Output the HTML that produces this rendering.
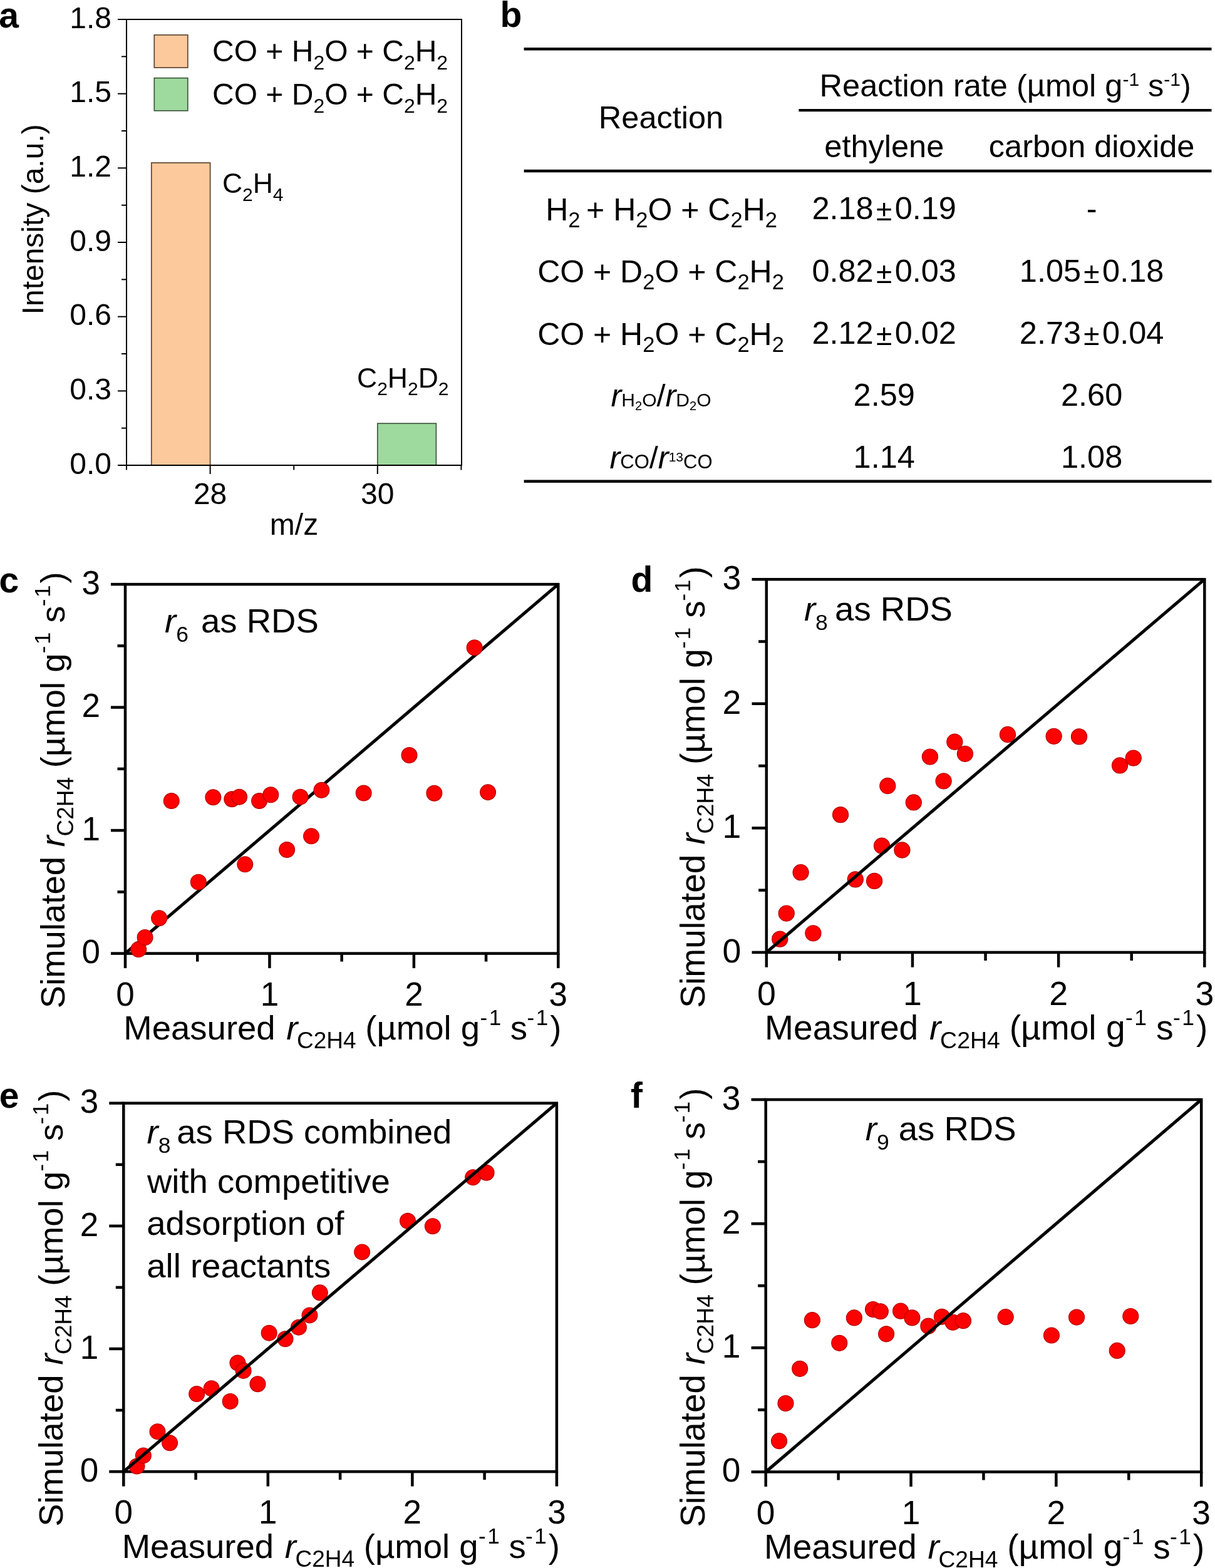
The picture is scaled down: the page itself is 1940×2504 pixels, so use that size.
<!DOCTYPE html>
<html><head><meta charset="utf-8"><title>Figure</title>
<style>
html,body{margin:0;padding:0;background:#fff;}
body{width:1940px;height:2504px;overflow:hidden;}
svg{display:block;}
text{font-family:"Liberation Sans", Arial, Helvetica, sans-serif;fill:#000;}
</style></head>
<body>
<svg width="1940" height="2504" viewBox="0 0 1940 2504">
<rect x="0" y="0" width="1940" height="2504" fill="#fff"/>
<text x="-1.7" y="44" font-size="57" font-weight="bold" >a</text>
<text x="798.5" y="43.4" font-size="57" font-weight="bold" >b</text>
<text x="-1.4" y="946.2" font-size="57" font-weight="bold" >c</text>
<text x="1007.4" y="945.1" font-size="57" font-weight="bold" >d</text>
<text x="-1.35" y="1769" font-size="57" font-weight="bold" >e</text>
<text x="1007" y="1769" font-size="57" font-weight="bold" >f</text>
<rect x="241.8" y="260" width="93.8" height="483" fill="#FCC99C" stroke="#5c4632" stroke-width="1.7" />
<rect x="602.8" y="676.2" width="93.6" height="66.8" fill="#9ED99E" stroke="#3c573d" stroke-width="1.7" />
<rect x="246.3" y="55.8" width="53.5" height="52.2" fill="#FCC99C" stroke="#5c4632" stroke-width="1.7" />
<rect x="246.3" y="124.6" width="53.5" height="52.2" fill="#9ED99E" stroke="#3c573d" stroke-width="1.7" />
<rect x="202" y="31" width="535" height="712" fill="none" stroke="#000" stroke-width="2" />
<line x1="188" y1="743" x2="202" y2="743" stroke="#000" stroke-width="2" stroke-linecap="butt"/>
<text x="178" y="756.5" font-size="48" text-anchor="end" >0.0</text>
<line x1="188" y1="624.33" x2="202" y2="624.33" stroke="#000" stroke-width="2" stroke-linecap="butt"/>
<text x="178" y="637.83" font-size="48" text-anchor="end" >0.3</text>
<line x1="188" y1="505.67" x2="202" y2="505.67" stroke="#000" stroke-width="2" stroke-linecap="butt"/>
<text x="178" y="519.17" font-size="48" text-anchor="end" >0.6</text>
<line x1="188" y1="387" x2="202" y2="387" stroke="#000" stroke-width="2" stroke-linecap="butt"/>
<text x="178" y="400.5" font-size="48" text-anchor="end" >0.9</text>
<line x1="188" y1="268.33" x2="202" y2="268.33" stroke="#000" stroke-width="2" stroke-linecap="butt"/>
<text x="178" y="281.83" font-size="48" text-anchor="end" >1.2</text>
<line x1="188" y1="149.67" x2="202" y2="149.67" stroke="#000" stroke-width="2" stroke-linecap="butt"/>
<text x="178" y="163.17" font-size="48" text-anchor="end" >1.5</text>
<line x1="188" y1="31" x2="202" y2="31" stroke="#000" stroke-width="2" stroke-linecap="butt"/>
<text x="178" y="44.5" font-size="48" text-anchor="end" >1.8</text>
<line x1="194" y1="683.67" x2="202" y2="683.67" stroke="#000" stroke-width="2" stroke-linecap="butt"/>
<line x1="194" y1="565" x2="202" y2="565" stroke="#000" stroke-width="2" stroke-linecap="butt"/>
<line x1="194" y1="446.33" x2="202" y2="446.33" stroke="#000" stroke-width="2" stroke-linecap="butt"/>
<line x1="194" y1="327.67" x2="202" y2="327.67" stroke="#000" stroke-width="2" stroke-linecap="butt"/>
<line x1="194" y1="209" x2="202" y2="209" stroke="#000" stroke-width="2" stroke-linecap="butt"/>
<line x1="194" y1="90.33" x2="202" y2="90.33" stroke="#000" stroke-width="2" stroke-linecap="butt"/>
<line x1="335.6" y1="743" x2="335.6" y2="757" stroke="#000" stroke-width="2" stroke-linecap="butt"/>
<text x="335.6" y="804.5" font-size="48" text-anchor="middle" >28</text>
<line x1="602.8" y1="743" x2="602.8" y2="757" stroke="#000" stroke-width="2" stroke-linecap="butt"/>
<text x="602.8" y="804.5" font-size="48" text-anchor="middle" >30</text>
<line x1="202" y1="743" x2="202" y2="750.5" stroke="#000" stroke-width="2" stroke-linecap="butt"/>
<line x1="469.2" y1="743" x2="469.2" y2="750.5" stroke="#000" stroke-width="2" stroke-linecap="butt"/>
<line x1="736.4" y1="743" x2="736.4" y2="750.5" stroke="#000" stroke-width="2" stroke-linecap="butt"/>
<text x="469.5" y="853.5" font-size="48" text-anchor="middle" >m/z</text>
<text transform="translate(69,502.4) rotate(-90)" font-size="48">Intensity (a.u.)</text>
<text x="339" y="97.6" font-size="48" >CO + H<tspan font-size="32" dy="13.5">2</tspan><tspan dy="-13.5">O + C</tspan><tspan font-size="32" dy="13.5">2</tspan><tspan dy="-13.5">H</tspan><tspan font-size="32" dy="13.5">2</tspan></text>
<text x="339" y="166.9" font-size="48" >CO + D<tspan font-size="32" dy="13.5">2</tspan><tspan dy="-13.5">O + C</tspan><tspan font-size="32" dy="13.5">2</tspan><tspan dy="-13.5">H</tspan><tspan font-size="32" dy="13.5">2</tspan></text>
<text x="354.9" y="308.3" font-size="44.5" >C<tspan font-size="30" dy="12.5">2</tspan><tspan dy="-12.5">H</tspan><tspan font-size="30" dy="12.5">4</tspan></text>
<text x="570" y="618.8" font-size="44.5" >C<tspan font-size="30" dy="12.5">2</tspan><tspan dy="-12.5">H</tspan><tspan font-size="30" dy="12.5">2</tspan><tspan dy="-12.5">D</tspan><tspan font-size="30" dy="12.5">2</tspan></text>
<rect x="836.6" y="76" width="1097.9" height="4.5" fill="#000" stroke="none" stroke-width="0" />
<rect x="1275.4" y="174" width="659.1" height="4.2" fill="#000" stroke="none" stroke-width="0" />
<rect x="836.6" y="270.8" width="1097.9" height="4.5" fill="#000" stroke="none" stroke-width="0" />
<rect x="836.6" y="766.4" width="1097.9" height="4.5" fill="#000" stroke="none" stroke-width="0" />
<text x="1055.5" y="204.5" font-size="50.5" text-anchor="middle" >Reaction</text>
<text x="1308.6" y="153.9" font-size="50.5" >Reaction rate (µmol g<tspan font-size="30" dy="-17">-1</tspan><tspan dy="17"> s</tspan><tspan font-size="30" dy="-17">-1</tspan><tspan dy="17">)</tspan></text>
<text x="1411.8" y="251.3" font-size="50.5" text-anchor="middle" >ethylene</text>
<text x="1743.1" y="251.3" font-size="50.5" text-anchor="middle" >carbon dioxide</text>
<text x="1056.1" y="352.2" font-size="50" text-anchor="middle" >H<tspan font-size="34.5" dy="11">2 </tspan><tspan dy="-11">+ H</tspan><tspan font-size="34.5" dy="11">2</tspan><tspan dy="-11">O + C</tspan><tspan font-size="34.5" dy="11">2</tspan><tspan dy="-11">H</tspan><tspan font-size="34.5" dy="11">2</tspan></text>
<text x="1055" y="451.4" font-size="50" text-anchor="middle" >CO + D<tspan font-size="34.5" dy="11">2</tspan><tspan dy="-11">O + C</tspan><tspan font-size="34.5" dy="11">2</tspan><tspan dy="-11">H</tspan><tspan font-size="34.5" dy="11">2</tspan></text>
<text x="1055" y="550.6" font-size="50" text-anchor="middle" >CO + H<tspan font-size="34.5" dy="11">2</tspan><tspan dy="-11">O + C</tspan><tspan font-size="34.5" dy="11">2</tspan><tspan dy="-11">H</tspan><tspan font-size="34.5" dy="11">2</tspan></text>
<text x="1055.5" y="649" font-size="50.5" text-anchor="middle" ><tspan font-style="italic">r</tspan><tspan font-size="30">H</tspan><tspan font-size="20" dy="6">2</tspan><tspan font-size="30" dy="-6">O</tspan>/<tspan font-style="italic">r</tspan><tspan font-size="30">D</tspan><tspan font-size="20" dy="6">2</tspan><tspan font-size="30" dy="-6">O</tspan></text>
<text x="1055.5" y="748.2" font-size="50.5" text-anchor="middle" ><tspan font-style="italic">r</tspan><tspan font-size="31">CO</tspan>/<tspan font-style="italic">r</tspan><tspan font-size="21" dy="-11">13</tspan><tspan font-size="31" dy="11">CO</tspan></text>
<text x="1411.7" y="350.4" font-size="50.5" text-anchor="middle" >2.18<tspan font-size="46" dy="2" dx="4.2">±</tspan><tspan dy="-2" dx="4.5">0.19</tspan></text>
<text x="1743.1" y="350.4" font-size="50.5" text-anchor="middle" >-</text>
<text x="1411.7" y="449.6" font-size="50.5" text-anchor="middle" >0.82<tspan font-size="46" dy="2" dx="4.2">±</tspan><tspan dy="-2" dx="4.5">0.03</tspan></text>
<text x="1743.1" y="449.6" font-size="50.5" text-anchor="middle" >1.05<tspan font-size="46" dy="2" dx="4.2">±</tspan><tspan dy="-2" dx="4.5">0.18</tspan></text>
<text x="1411.7" y="548.8" font-size="50.5" text-anchor="middle" >2.12<tspan font-size="46" dy="2" dx="4.2">±</tspan><tspan dy="-2" dx="4.5">0.02</tspan></text>
<text x="1743.1" y="548.8" font-size="50.5" text-anchor="middle" >2.73<tspan font-size="46" dy="2" dx="4.2">±</tspan><tspan dy="-2" dx="4.5">0.04</tspan></text>
<text x="1411.7" y="648" font-size="50.5" text-anchor="middle" >2.59</text>
<text x="1743.1" y="648" font-size="50.5" text-anchor="middle" >2.60</text>
<text x="1411.7" y="747.2" font-size="50.5" text-anchor="middle" >1.14</text>
<text x="1743.1" y="747.2" font-size="50.5" text-anchor="middle" >1.08</text>
<rect x="200" y="933.1" width="691.3" height="589.5" fill="none" stroke="#000" stroke-width="4.5" />
<line x1="177" y1="1522.6" x2="200" y2="1522.6" stroke="#000" stroke-width="4.5" stroke-linecap="butt"/>
<line x1="200" y1="1522.6" x2="200" y2="1546.1" stroke="#000" stroke-width="4.5" stroke-linecap="butt"/>
<text x="160" y="1538.3" font-size="53" text-anchor="end" >0</text>
<text x="200" y="1605.6" font-size="53" text-anchor="middle" >0</text>
<line x1="177" y1="1326.1" x2="200" y2="1326.1" stroke="#000" stroke-width="4.5" stroke-linecap="butt"/>
<line x1="430.43" y1="1522.6" x2="430.43" y2="1546.1" stroke="#000" stroke-width="4.5" stroke-linecap="butt"/>
<text x="160" y="1341.8" font-size="53" text-anchor="end" >1</text>
<text x="430.43" y="1605.6" font-size="53" text-anchor="middle" >1</text>
<line x1="177" y1="1129.6" x2="200" y2="1129.6" stroke="#000" stroke-width="4.5" stroke-linecap="butt"/>
<line x1="660.87" y1="1522.6" x2="660.87" y2="1546.1" stroke="#000" stroke-width="4.5" stroke-linecap="butt"/>
<text x="160" y="1145.3" font-size="53" text-anchor="end" >2</text>
<text x="660.87" y="1605.6" font-size="53" text-anchor="middle" >2</text>
<line x1="177" y1="933.1" x2="200" y2="933.1" stroke="#000" stroke-width="4.5" stroke-linecap="butt"/>
<line x1="891.3" y1="1522.6" x2="891.3" y2="1546.1" stroke="#000" stroke-width="4.5" stroke-linecap="butt"/>
<text x="160" y="948.8" font-size="53" text-anchor="end" >3</text>
<text x="891.3" y="1605.6" font-size="53" text-anchor="middle" >3</text>
<line x1="187.5" y1="1424.35" x2="200" y2="1424.35" stroke="#000" stroke-width="4.5" stroke-linecap="butt"/>
<line x1="315.22" y1="1522.6" x2="315.22" y2="1535.6" stroke="#000" stroke-width="4.5" stroke-linecap="butt"/>
<line x1="187.5" y1="1227.85" x2="200" y2="1227.85" stroke="#000" stroke-width="4.5" stroke-linecap="butt"/>
<line x1="545.65" y1="1522.6" x2="545.65" y2="1535.6" stroke="#000" stroke-width="4.5" stroke-linecap="butt"/>
<line x1="187.5" y1="1031.35" x2="200" y2="1031.35" stroke="#000" stroke-width="4.5" stroke-linecap="butt"/>
<line x1="776.08" y1="1522.6" x2="776.08" y2="1535.6" stroke="#000" stroke-width="4.5" stroke-linecap="butt"/>
<line x1="200" y1="1522.6" x2="891.3" y2="933.1" stroke="#000" stroke-width="5"/>
<g fill="#f00" stroke="#b40000" stroke-width="1.2"><circle cx="221.2" cy="1516.12" r="12.4"/><circle cx="231.57" cy="1497.05" r="12.4"/><circle cx="254.15" cy="1466.2" r="12.4"/><circle cx="273.74" cy="1278.94" r="12.4"/><circle cx="316.83" cy="1408.63" r="12.4"/><circle cx="340.33" cy="1273.24" r="12.4"/><circle cx="370.29" cy="1276.19" r="12.4"/><circle cx="382.04" cy="1272.65" r="12.4"/><circle cx="391.26" cy="1380.33" r="12.4"/><circle cx="414.07" cy="1278.94" r="12.4"/><circle cx="432.28" cy="1269.31" r="12.4"/><circle cx="458.09" cy="1356.95" r="12.4"/><circle cx="479.52" cy="1272.65" r="12.4"/><circle cx="497.03" cy="1335.34" r="12.4"/><circle cx="513.39" cy="1261.84" r="12.4"/><circle cx="580.68" cy="1266.56" r="12.4"/><circle cx="653.49" cy="1206.04" r="12.4"/><circle cx="693.36" cy="1266.76" r="12.4"/><circle cx="757.65" cy="1034.3" r="12.4"/><circle cx="779.08" cy="1265.18" r="12.4"/></g>
<text transform="translate(201.8,1660.1) scale(1.0000)" font-size="54.5"><tspan x="-4.47">Measured</tspan><tspan x="255.43" font-style="italic">r</tspan><tspan x="272.25" dy="14" font-size="37">C2H4</tspan><tspan x="381.52" dy="-14">(µmol g</tspan><tspan x="564.66" dy="-23" font-size="35">-</tspan><tspan x="578.84" font-size="35">1</tspan><tspan x="613.07" dy="23">s</tspan><tspan x="639.66" dy="-23" font-size="35">-</tspan><tspan x="653.84" font-size="35">1</tspan><tspan x="676.37" dy="23">)</tspan></text>
<text transform="translate(102.5,1607.8) rotate(-90) scale(1.0000)" font-size="54.5"><tspan x="-2.51">Simulated</tspan><tspan x="255.43" font-style="italic">r</tspan><tspan x="272.25" dy="14" font-size="37">C2H4</tspan><tspan x="381.52" dy="-14">(µmol g</tspan><tspan x="564.66" dy="-23" font-size="35">-</tspan><tspan x="578.84" font-size="35">1</tspan><tspan x="613.07" dy="23">s</tspan><tspan x="639.66" dy="-23" font-size="35">-</tspan><tspan x="653.84" font-size="35">1</tspan><tspan x="676.37" dy="23">)</tspan></text>
<rect x="1223.8" y="925.2" width="699.5" height="595.7" fill="none" stroke="#000" stroke-width="4.5" />
<line x1="1200.53" y1="1520.9" x2="1223.8" y2="1520.9" stroke="#000" stroke-width="4.5" stroke-linecap="butt"/>
<line x1="1223.8" y1="1520.9" x2="1223.8" y2="1544.68" stroke="#000" stroke-width="4.5" stroke-linecap="butt"/>
<text x="1183.33" y="1536.79" font-size="53.63" text-anchor="end" >0</text>
<text x="1223.8" y="1604.88" font-size="53.63" text-anchor="middle" >0</text>
<line x1="1200.53" y1="1322.33" x2="1223.8" y2="1322.33" stroke="#000" stroke-width="4.5" stroke-linecap="butt"/>
<line x1="1456.97" y1="1520.9" x2="1456.97" y2="1544.68" stroke="#000" stroke-width="4.5" stroke-linecap="butt"/>
<text x="1183.33" y="1338.22" font-size="53.63" text-anchor="end" >1</text>
<text x="1456.97" y="1604.88" font-size="53.63" text-anchor="middle" >1</text>
<line x1="1200.53" y1="1123.77" x2="1223.8" y2="1123.77" stroke="#000" stroke-width="4.5" stroke-linecap="butt"/>
<line x1="1690.13" y1="1520.9" x2="1690.13" y2="1544.68" stroke="#000" stroke-width="4.5" stroke-linecap="butt"/>
<text x="1183.33" y="1139.65" font-size="53.63" text-anchor="end" >2</text>
<text x="1690.13" y="1604.88" font-size="53.63" text-anchor="middle" >2</text>
<line x1="1200.53" y1="925.2" x2="1223.8" y2="925.2" stroke="#000" stroke-width="4.5" stroke-linecap="butt"/>
<line x1="1923.3" y1="1520.9" x2="1923.3" y2="1544.68" stroke="#000" stroke-width="4.5" stroke-linecap="butt"/>
<text x="1183.33" y="941.09" font-size="53.63" text-anchor="end" >3</text>
<text x="1923.3" y="1604.88" font-size="53.63" text-anchor="middle" >3</text>
<line x1="1211.15" y1="1421.62" x2="1223.8" y2="1421.62" stroke="#000" stroke-width="4.5" stroke-linecap="butt"/>
<line x1="1340.38" y1="1520.9" x2="1340.38" y2="1534.05" stroke="#000" stroke-width="4.5" stroke-linecap="butt"/>
<line x1="1211.15" y1="1223.05" x2="1223.8" y2="1223.05" stroke="#000" stroke-width="4.5" stroke-linecap="butt"/>
<line x1="1573.55" y1="1520.9" x2="1573.55" y2="1534.05" stroke="#000" stroke-width="4.5" stroke-linecap="butt"/>
<line x1="1211.15" y1="1024.48" x2="1223.8" y2="1024.48" stroke="#000" stroke-width="4.5" stroke-linecap="butt"/>
<line x1="1806.72" y1="1520.9" x2="1806.72" y2="1534.05" stroke="#000" stroke-width="4.5" stroke-linecap="butt"/>
<g fill="#f00" stroke="#b40000" stroke-width="1.2"><circle cx="1245.25" cy="1499.65" r="12.55"/><circle cx="1255.74" cy="1458.55" r="12.55"/><circle cx="1278.59" cy="1393.22" r="12.55"/><circle cx="1298.41" cy="1490.32" r="12.55"/><circle cx="1342.02" cy="1301.09" r="12.55"/><circle cx="1365.8" cy="1404.34" r="12.55"/><circle cx="1396.11" cy="1406.92" r="12.55"/><circle cx="1408" cy="1350.73" r="12.55"/><circle cx="1417.33" cy="1255.02" r="12.55"/><circle cx="1440.41" cy="1357.48" r="12.55"/><circle cx="1458.83" cy="1281.43" r="12.55"/><circle cx="1484.95" cy="1208.55" r="12.55"/><circle cx="1506.63" cy="1247.28" r="12.55"/><circle cx="1524.35" cy="1184.73" r="12.55"/><circle cx="1540.91" cy="1203.79" r="12.55"/><circle cx="1608.99" cy="1173.01" r="12.55"/><circle cx="1682.67" cy="1175.79" r="12.55"/><circle cx="1723.01" cy="1176.39" r="12.55"/><circle cx="1788.06" cy="1222.45" r="12.55"/><circle cx="1809.75" cy="1210.54" r="12.55"/></g>
<line x1="1223.8" y1="1520.9" x2="1923.3" y2="925.2" stroke="#000" stroke-width="5"/>
<text transform="translate(1225.62,1660.03) scale(1.0119)" font-size="54.5"><tspan x="-4.47">Measured</tspan><tspan x="255.43" font-style="italic">r</tspan><tspan x="272.25" dy="14" font-size="37">C2H4</tspan><tspan x="381.52" dy="-14">(µmol g</tspan><tspan x="564.66" dy="-23" font-size="35">-</tspan><tspan x="578.84" font-size="35">1</tspan><tspan x="613.07" dy="23">s</tspan><tspan x="639.66" dy="-23" font-size="35">-</tspan><tspan x="653.84" font-size="35">1</tspan><tspan x="676.37" dy="23">)</tspan></text>
<text transform="translate(1125.14,1607.11) rotate(-90) scale(1.0119)" font-size="54.5"><tspan x="-2.51">Simulated</tspan><tspan x="255.43" font-style="italic">r</tspan><tspan x="272.25" dy="14" font-size="37">C2H4</tspan><tspan x="381.52" dy="-14">(µmol g</tspan><tspan x="564.66" dy="-23" font-size="35">-</tspan><tspan x="578.84" font-size="35">1</tspan><tspan x="613.07" dy="23">s</tspan><tspan x="639.66" dy="-23" font-size="35">-</tspan><tspan x="653.84" font-size="35">1</tspan><tspan x="676.37" dy="23">)</tspan></text>
<rect x="197.3" y="1761.7" width="691.6" height="588.4" fill="none" stroke="#000" stroke-width="4.5" />
<line x1="174.29" y1="2350.1" x2="197.3" y2="2350.1" stroke="#000" stroke-width="4.5" stroke-linecap="butt"/>
<line x1="197.3" y1="2350.1" x2="197.3" y2="2373.61" stroke="#000" stroke-width="4.5" stroke-linecap="butt"/>
<text x="157.28" y="2365.81" font-size="53.02" text-anchor="end" >0</text>
<text x="197.3" y="2433.14" font-size="53.02" text-anchor="middle" >0</text>
<line x1="174.29" y1="2153.97" x2="197.3" y2="2153.97" stroke="#000" stroke-width="4.5" stroke-linecap="butt"/>
<line x1="427.83" y1="2350.1" x2="427.83" y2="2373.61" stroke="#000" stroke-width="4.5" stroke-linecap="butt"/>
<text x="157.28" y="2169.67" font-size="53.02" text-anchor="end" >1</text>
<text x="427.83" y="2433.14" font-size="53.02" text-anchor="middle" >1</text>
<line x1="174.29" y1="1957.83" x2="197.3" y2="1957.83" stroke="#000" stroke-width="4.5" stroke-linecap="butt"/>
<line x1="658.37" y1="2350.1" x2="658.37" y2="2373.61" stroke="#000" stroke-width="4.5" stroke-linecap="butt"/>
<text x="157.28" y="1973.54" font-size="53.02" text-anchor="end" >2</text>
<text x="658.37" y="2433.14" font-size="53.02" text-anchor="middle" >2</text>
<line x1="174.29" y1="1761.7" x2="197.3" y2="1761.7" stroke="#000" stroke-width="4.5" stroke-linecap="butt"/>
<line x1="888.9" y1="2350.1" x2="888.9" y2="2373.61" stroke="#000" stroke-width="4.5" stroke-linecap="butt"/>
<text x="157.28" y="1777.41" font-size="53.02" text-anchor="end" >3</text>
<text x="888.9" y="2433.14" font-size="53.02" text-anchor="middle" >3</text>
<line x1="184.79" y1="2252.03" x2="197.3" y2="2252.03" stroke="#000" stroke-width="4.5" stroke-linecap="butt"/>
<line x1="312.57" y1="2350.1" x2="312.57" y2="2363.11" stroke="#000" stroke-width="4.5" stroke-linecap="butt"/>
<line x1="184.79" y1="2055.9" x2="197.3" y2="2055.9" stroke="#000" stroke-width="4.5" stroke-linecap="butt"/>
<line x1="543.1" y1="2350.1" x2="543.1" y2="2363.11" stroke="#000" stroke-width="4.5" stroke-linecap="butt"/>
<line x1="184.79" y1="1859.77" x2="197.3" y2="1859.77" stroke="#000" stroke-width="4.5" stroke-linecap="butt"/>
<line x1="773.63" y1="2350.1" x2="773.63" y2="2363.11" stroke="#000" stroke-width="4.5" stroke-linecap="butt"/>
<g fill="#f00" stroke="#b40000" stroke-width="1.2"><circle cx="218.51" cy="2341.47" r="12.41"/><circle cx="228.88" cy="2324.41" r="12.41"/><circle cx="251.48" cy="2286.16" r="12.41"/><circle cx="271.07" cy="2304.2" r="12.41"/><circle cx="314.18" cy="2225.95" r="12.41"/><circle cx="337.69" cy="2217.32" r="12.41"/><circle cx="367.66" cy="2237.91" r="12.41"/><circle cx="379.42" cy="2176.52" r="12.41"/><circle cx="388.64" cy="2188.88" r="12.41"/><circle cx="411.47" cy="2210.26" r="12.41"/><circle cx="429.68" cy="2128.67" r="12.41"/><circle cx="455.5" cy="2138.28" r="12.41"/><circle cx="476.94" cy="2119.64" r="12.41"/><circle cx="494.46" cy="2100.42" r="12.41"/><circle cx="510.83" cy="2064.33" r="12.41"/><circle cx="578.14" cy="1999.41" r="12.41"/><circle cx="650.99" cy="1949.79" r="12.41"/><circle cx="690.87" cy="1958.23" r="12.41"/><circle cx="755.19" cy="1880.16" r="12.41"/><circle cx="776.63" cy="1872.71" r="12.41"/></g>
<line x1="197.3" y1="2350.1" x2="888.9" y2="1761.7" stroke="#000" stroke-width="5"/>
<text transform="translate(199.1,2487.66) scale(1.0004)" font-size="54.5"><tspan x="-4.47">Measured</tspan><tspan x="255.43" font-style="italic">r</tspan><tspan x="272.25" dy="14" font-size="37">C2H4</tspan><tspan x="381.52" dy="-14">(µmol g</tspan><tspan x="564.66" dy="-23" font-size="35">-</tspan><tspan x="578.84" font-size="35">1</tspan><tspan x="613.07" dy="23">s</tspan><tspan x="639.66" dy="-23" font-size="35">-</tspan><tspan x="653.84" font-size="35">1</tspan><tspan x="676.37" dy="23">)</tspan></text>
<text transform="translate(99.76,2435.34) rotate(-90) scale(1.0004)" font-size="54.5"><tspan x="-2.51">Simulated</tspan><tspan x="255.43" font-style="italic">r</tspan><tspan x="272.25" dy="14" font-size="37">C2H4</tspan><tspan x="381.52" dy="-14">(µmol g</tspan><tspan x="564.66" dy="-23" font-size="35">-</tspan><tspan x="578.84" font-size="35">1</tspan><tspan x="613.07" dy="23">s</tspan><tspan x="639.66" dy="-23" font-size="35">-</tspan><tspan x="653.84" font-size="35">1</tspan><tspan x="676.37" dy="23">)</tspan></text>
<rect x="1222.7" y="1756" width="695.5" height="594.5" fill="none" stroke="#000" stroke-width="4.5" />
<line x1="1199.56" y1="2350.5" x2="1222.7" y2="2350.5" stroke="#000" stroke-width="4.5" stroke-linecap="butt"/>
<line x1="1222.7" y1="2350.5" x2="1222.7" y2="2374.14" stroke="#000" stroke-width="4.5" stroke-linecap="butt"/>
<text x="1182.46" y="2366.3" font-size="53.32" text-anchor="end" >0</text>
<text x="1222.7" y="2434" font-size="53.32" text-anchor="middle" >0</text>
<line x1="1199.56" y1="2152.33" x2="1222.7" y2="2152.33" stroke="#000" stroke-width="4.5" stroke-linecap="butt"/>
<line x1="1454.53" y1="2350.5" x2="1454.53" y2="2374.14" stroke="#000" stroke-width="4.5" stroke-linecap="butt"/>
<text x="1182.46" y="2168.13" font-size="53.32" text-anchor="end" >1</text>
<text x="1454.53" y="2434" font-size="53.32" text-anchor="middle" >1</text>
<line x1="1199.56" y1="1954.17" x2="1222.7" y2="1954.17" stroke="#000" stroke-width="4.5" stroke-linecap="butt"/>
<line x1="1686.37" y1="2350.5" x2="1686.37" y2="2374.14" stroke="#000" stroke-width="4.5" stroke-linecap="butt"/>
<text x="1182.46" y="1969.96" font-size="53.32" text-anchor="end" >2</text>
<text x="1686.37" y="2434" font-size="53.32" text-anchor="middle" >2</text>
<line x1="1199.56" y1="1756" x2="1222.7" y2="1756" stroke="#000" stroke-width="4.5" stroke-linecap="butt"/>
<line x1="1918.2" y1="2350.5" x2="1918.2" y2="2374.14" stroke="#000" stroke-width="4.5" stroke-linecap="butt"/>
<text x="1182.46" y="1771.8" font-size="53.32" text-anchor="end" >3</text>
<text x="1918.2" y="2434" font-size="53.32" text-anchor="middle" >3</text>
<line x1="1210.12" y1="2251.42" x2="1222.7" y2="2251.42" stroke="#000" stroke-width="4.5" stroke-linecap="butt"/>
<line x1="1338.62" y1="2350.5" x2="1338.62" y2="2363.58" stroke="#000" stroke-width="4.5" stroke-linecap="butt"/>
<line x1="1210.12" y1="2053.25" x2="1222.7" y2="2053.25" stroke="#000" stroke-width="4.5" stroke-linecap="butt"/>
<line x1="1570.45" y1="2350.5" x2="1570.45" y2="2363.58" stroke="#000" stroke-width="4.5" stroke-linecap="butt"/>
<line x1="1210.12" y1="1855.08" x2="1222.7" y2="1855.08" stroke="#000" stroke-width="4.5" stroke-linecap="butt"/>
<line x1="1802.28" y1="2350.5" x2="1802.28" y2="2363.58" stroke="#000" stroke-width="4.5" stroke-linecap="butt"/>
<g fill="#f00" stroke="#b40000" stroke-width="1.2"><circle cx="1244.03" cy="2301.16" r="12.48"/><circle cx="1254.46" cy="2241.11" r="12.48"/><circle cx="1277.18" cy="2185.82" r="12.48"/><circle cx="1296.89" cy="2108.14" r="12.48"/><circle cx="1340.24" cy="2144.8" r="12.48"/><circle cx="1363.89" cy="2104.38" r="12.48"/><circle cx="1394.02" cy="2091.1" r="12.48"/><circle cx="1405.85" cy="2094.27" r="12.48"/><circle cx="1415.12" cy="2130.34" r="12.48"/><circle cx="1438.07" cy="2093.68" r="12.48"/><circle cx="1456.39" cy="2104.38" r="12.48"/><circle cx="1482.35" cy="2117.65" r="12.48"/><circle cx="1503.91" cy="2102.79" r="12.48"/><circle cx="1521.53" cy="2111.71" r="12.48"/><circle cx="1537.99" cy="2109.13" r="12.48"/><circle cx="1605.69" cy="2103.19" r="12.48"/><circle cx="1678.95" cy="2132.52" r="12.48"/><circle cx="1719.06" cy="2103.58" r="12.48"/><circle cx="1783.74" cy="2156.89" r="12.48"/><circle cx="1805.3" cy="2102" r="12.48"/></g>
<line x1="1222.7" y1="2350.5" x2="1918.2" y2="1756" stroke="#000" stroke-width="5"/>
<text transform="translate(1224.51,2488.84) scale(1.0061)" font-size="54.5"><tspan x="-4.47">Measured</tspan><tspan x="255.43" font-style="italic">r</tspan><tspan x="272.25" dy="14" font-size="37">C2H4</tspan><tspan x="381.52" dy="-14">(µmol g</tspan><tspan x="564.66" dy="-23" font-size="35">-</tspan><tspan x="578.84" font-size="35">1</tspan><tspan x="613.07" dy="23">s</tspan><tspan x="639.66" dy="-23" font-size="35">-</tspan><tspan x="653.84" font-size="35">1</tspan><tspan x="676.37" dy="23">)</tspan></text>
<text transform="translate(1124.61,2436.22) rotate(-90) scale(1.0061)" font-size="54.5"><tspan x="-2.51">Simulated</tspan><tspan x="255.43" font-style="italic">r</tspan><tspan x="272.25" dy="14" font-size="37">C2H4</tspan><tspan x="381.52" dy="-14">(µmol g</tspan><tspan x="564.66" dy="-23" font-size="35">-</tspan><tspan x="578.84" font-size="35">1</tspan><tspan x="613.07" dy="23">s</tspan><tspan x="639.66" dy="-23" font-size="35">-</tspan><tspan x="653.84" font-size="35">1</tspan><tspan x="676.37" dy="23">)</tspan></text>
<text x="263" y="1010.3" font-size="54.5" ><tspan font-style="italic">r</tspan><tspan font-size="35.5" dy="15">6</tspan></text>
<text x="321" y="1010.3" font-size="54.5" >as RDS</text>
<text x="1283.9" y="990.5" font-size="54.5" ><tspan font-style="italic">r</tspan><tspan font-size="35.5" dy="15">8</tspan></text>
<text x="1333.1" y="990.5" font-size="54.5" >as RDS</text>
<text x="1381.8" y="1821.4" font-size="54.5" ><tspan font-style="italic">r</tspan><tspan font-size="35.5" dy="15">9</tspan></text>
<text x="1434.8" y="1821.4" font-size="54.5" >as RDS</text>
<text x="234.5" y="1826.4" font-size="54.5" ><tspan font-style="italic">r</tspan><tspan font-size="35.5" dy="15">8</tspan></text>
<text x="282.2" y="1826.4" font-size="54.5" >as RDS combined</text>
<text x="235" y="1905.2" font-size="54.5" >with competitive</text>
<text x="234.3" y="1972.4" font-size="54.5" >adsorption of</text>
<text x="234.3" y="2039.7" font-size="54.5" >all reactants</text>
</svg>
</body></html>
